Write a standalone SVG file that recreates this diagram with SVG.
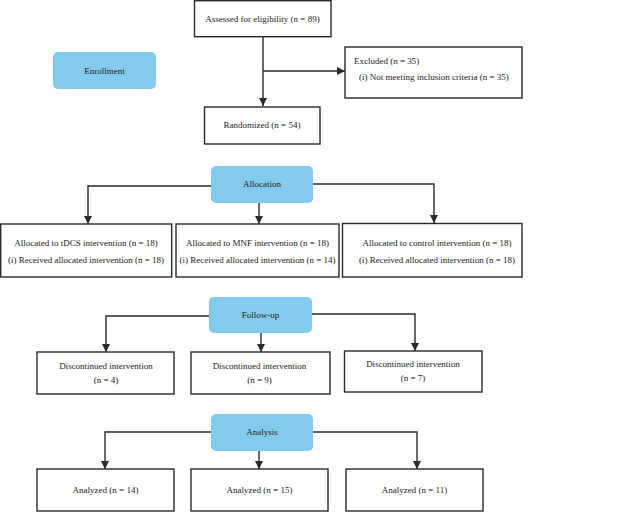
<svg xmlns="http://www.w3.org/2000/svg" width="639" height="512" viewBox="0 0 639 512">
<defs>
<style>
.box{fill:#fff;stroke:#2a2a2a;stroke-width:1.4}
.stage{fill:#82cbec;stroke:none}
.t{font-family:"Liberation Serif","Times New Roman",serif;font-size:9px;fill:#222;text-anchor:middle}
.tl{font-family:"Liberation Serif","Times New Roman",serif;font-size:9px;fill:#222;text-anchor:start}
.c{fill:none;stroke:#2a2a2a;stroke-width:1.4}
</style>
<marker id="ah" viewBox="0 0 10 10" refX="10" refY="5" markerWidth="8" markerHeight="8" markerUnits="userSpaceOnUse" orient="auto">
<path d="M0,0 L10,5 L0,10 z" fill="#2a2a2a"/>
</marker>
</defs>
<rect width="639" height="512" fill="#fff"/>
<g id="connectors">
<path class="c" d="M263,37 V106" marker-end="url(#ah)"/>
<path class="c" d="M263,71 H345" marker-end="url(#ah)"/>
<path class="c" d="M211,186 H88 V224" marker-end="url(#ah)"/>
<path class="c" d="M259,203 V224" marker-end="url(#ah)"/>
<path class="c" d="M313,184 H434 V223" marker-end="url(#ah)"/>
<path class="c" d="M209,316 H106 V352" marker-end="url(#ah)"/>
<path class="c" d="M261,333 V352" marker-end="url(#ah)"/>
<path class="c" d="M312,314 H415 V351" marker-end="url(#ah)"/>
<path class="c" d="M211,432 H105 V469" marker-end="url(#ah)"/>
<path class="c" d="M259,451 V469" marker-end="url(#ah)"/>
<path class="c" d="M313,432 H417 V469" marker-end="url(#ah)"/>
</g>
<g id="assessed"><rect class="box" x="194.5" y="0.7" width="136.5" height="36"/><text class="t" x="262.5" y="22">Assessed for eligibility (n = 89)</text></g>
<g id="enrollment"><rect class="stage" x="53" y="52" width="103" height="37" rx="5"/><text class="t" x="104.5" y="73.5">Enrollment</text></g>
<g id="excluded"><rect class="box" x="345" y="47" width="177" height="51"/><text class="tl" x="354" y="64">Excluded (n = 35)</text><text class="tl" x="359" y="80">(i) Not meeting inclusion criteria (n = 35)</text></g>
<g id="randomized"><rect class="box" x="204.5" y="107" width="115.5" height="37"/><text class="t" x="262" y="128">Randomized (n = 54)</text></g>
<g id="allocation"><rect class="stage" x="211" y="166" width="102" height="37" rx="5"/><text class="t" x="262" y="186.5">Allocation</text></g>
<g id="alloc-tdcs"><rect class="box" x="0.7" y="224" width="171" height="53"/><text class="t" x="86" y="245.5">Allocated to tDCS intervention (n = 18)</text><text class="t" x="86" y="262.5">(i) Received allocated intervention (n = 18)</text></g>
<g id="alloc-mnf"><rect class="box" x="176" y="224" width="163" height="53"/><text class="t" x="257.5" y="245.5">Allocated to MNF intervention (n = 18)</text><text class="t" x="257.5" y="262.5">(i) Received allocated intervention (n = 14)</text></g>
<g id="alloc-control"><rect class="box" x="342.5" y="223.5" width="179.5" height="53.5"/><text class="t" x="437" y="245.5">Allocated to control intervention (n = 18)</text><text class="t" x="437" y="262.5">(i) Received allocated intervention (n = 18)</text></g>
<g id="followup"><rect class="stage" x="209" y="297" width="103" height="36" rx="5"/><text class="t" x="260.5" y="318">Follow-up</text></g>
<g id="disc-1"><rect class="box" x="37" y="352" width="137" height="42"/><text class="t" x="106" y="368.5">Discontinued intervention</text><text class="t" x="106" y="382.5">(n = 4)</text></g>
<g id="disc-2"><rect class="box" x="191" y="352" width="139" height="42"/><text class="t" x="259.5" y="368.5">Discontinued intervention</text><text class="t" x="259.5" y="382.5">(n = 9)</text></g>
<g id="disc-3"><rect class="box" x="344.5" y="351" width="137.5" height="41"/><text class="t" x="413" y="366.5">Discontinued intervention</text><text class="t" x="413" y="381">(n = 7)</text></g>
<g id="analysis"><rect class="stage" x="211" y="414" width="102" height="37" rx="5"/><text class="t" x="262" y="435">Analysis</text></g>
<g id="analyzed-1"><rect class="box" x="37" y="469" width="137" height="42"/><text class="t" x="105.5" y="493">Analyzed (n = 14)</text></g>
<g id="analyzed-2"><rect class="box" x="191" y="469" width="137" height="42"/><text class="t" x="259.5" y="493">Analyzed (n = 15)</text></g>
<g id="analyzed-3"><rect class="box" x="346" y="469" width="137" height="42"/><text class="t" x="414.5" y="493">Analyzed (n = 11)</text></g>
</svg>
